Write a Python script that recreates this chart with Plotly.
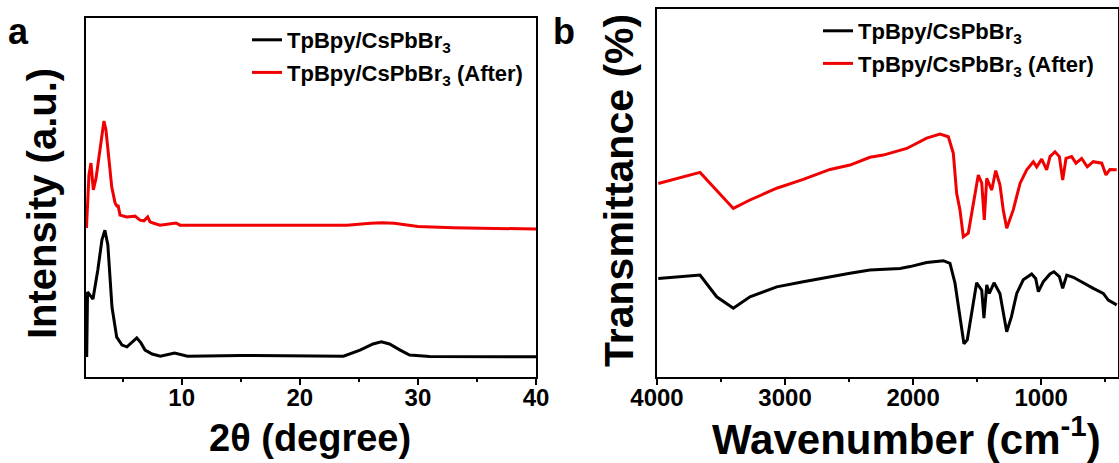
import plotly.graph_objects as go

# ---------------- Panel a: XRD ----------------
xrd_2theta_black = [1.96, 2.03, 2.49, 2.9, 3.25, 3.5, 3.75, 4.1, 4.5, 4.95, 5.37, 5.8, 6.2, 6.55, 6.9,
                    7.5, 8.2, 9.4, 10.5, 15, 20, 23.7, 25.1, 26.2, 26.9, 27.6, 28.5, 29.3, 31, 35, 40]
xrd_int_black = [5.6, 23.7, 21.7, 29.8, 38.2, 40.9, 36.8, 19.5, 11.1, 8.9, 8.4, 9.7, 10.9, 9.5, 7.5,
                 6.4, 5.8, 6.7, 5.8, 6.0, 5.8, 5.8, 7.5, 9.2, 9.8, 9.2, 7.5, 6.1, 5.7, 5.7, 5.65]

xrd_2theta_red = [1.94, 2.03, 2.15, 2.32, 2.52, 2.75, 3.09, 3.25, 3.42, 3.59, 3.7, 3.89, 4.08, 4.36,
                  4.52, 4.63, 4.78, 5.35, 5.71, 6.05, 6.47, 6.81, 7.12, 7.32, 7.57, 8.17, 9.52, 9.86,
                  15, 20, 24, 26, 27, 28, 30, 33, 36, 40]
xrd_int_red = [41.5, 49.3, 56.3, 59.6, 52.1, 55.4, 63.2, 68.2, 71.3, 68.8, 65.2, 58.2, 52.9, 48.5,
               47.6, 47.6, 45.1, 44.6, 44.8, 44.8, 43.7, 43.5, 44.6, 43.2, 42.9, 42.3, 42.9, 42.3,
               42.3, 42.2, 42.3, 42.8, 43.0, 42.8, 41.9, 41.6, 41.4, 41.2]

# ---------------- Panel b: FTIR ----------------
ir_wn_red = [3990, 3664, 3404, 3274, 3065, 2858, 2649, 2493, 2337, 2233, 2050, 1894, 1790, 1725, 1686,
             1660, 1634, 1608, 1569, 1530, 1491, 1464, 1444, 1425, 1405, 1386, 1355, 1322, 1296, 1269,
             1218, 1165, 1113, 1061, 1035, 996, 957, 931, 892, 858, 832, 806, 762, 728, 684, 640, 593,
             527, 494, 463, 410]
ir_t_red = [52.6, 55.6, 45.8, 48.1, 51.3, 53.7, 56.4, 57.6, 59.7, 60.3, 62.1, 64.9, 66.0, 65.3, 60.8,
            49.9, 45.4, 38.1, 39.1, 47.3, 54.9, 52.7, 42.7, 54.0, 52.2, 50.8, 56.1, 52.2, 45.4, 40.4,
            45.4, 52.6, 56.3, 58.5, 57.1, 59.2, 56.3, 59.9, 61.2, 59.9, 53.5, 59.4, 59.9, 58.1, 59.4,
            57.1, 58.5, 58.1, 54.9, 56.4, 56.3]

ir_wn_black = [3990, 3664, 3534, 3404, 3274, 3065, 2858, 2649, 2493, 2337, 2102, 2024, 1894, 1764, 1712,
               1673, 1634, 1603, 1577, 1543, 1504, 1464, 1447, 1425, 1405, 1368, 1322, 1290, 1269, 1232,
               1191, 1140, 1074, 1043, 1022, 983, 931, 900, 858, 832, 800, 749, 671, 593, 515, 476, 410]
ir_t_black = [26.8, 27.7, 21.8, 18.7, 21.8, 24.5, 25.9, 27.3, 28.2, 29.1, 29.5, 30.0, 31.1, 31.6, 30.9,
              25.5, 15.5, 9.0, 10.1, 17.3, 25.6, 23.6, 16.0, 25.0, 22.7, 25.6, 22.7, 16.4, 12.3, 16.4,
              22.7, 26.4, 28.0, 26.8, 23.2, 25.9, 28.0, 28.6, 27.3, 24.1, 27.7, 27.1, 25.5, 24.1, 22.7,
              20.9, 19.6]

name_black = "TpBpy/CsPbBr<sub>3</sub>"
name_red = "TpBpy/CsPbBr<sub>3</sub> (After)"

xrd_ticks = [10, 20, 30, 40]
ir_ticks = [4000, 3000, 2000, 1000]

BLACK = "#000000"
RED = "#f00000"
SANS = "Liberation Sans, Arial, sans-serif"

fig = go.Figure()
fig.add_trace(go.Scatter(x=xrd_2theta_black, y=xrd_int_black, mode="lines", name=name_black,
                         line=dict(color=BLACK, width=3), xaxis="x", yaxis="y",
                         legend="legend", legendgroup="a1"))
fig.add_trace(go.Scatter(x=xrd_2theta_red, y=xrd_int_red, mode="lines", name=name_red,
                         line=dict(color=RED, width=3), xaxis="x", yaxis="y",
                         legend="legend", legendgroup="a2"))
fig.add_trace(go.Scatter(x=ir_wn_black, y=ir_t_black, mode="lines", name=name_black,
                         line=dict(color=BLACK, width=3), xaxis="x2", yaxis="y2",
                         legend="legend2", legendgroup="b1"))
fig.add_trace(go.Scatter(x=ir_wn_red, y=ir_t_red, mode="lines", name=name_red,
                         line=dict(color=RED, width=3), xaxis="x2", yaxis="y2",
                         legend="legend2", legendgroup="b2"))

W, H = 1119, 463
common_x = dict(showline=True, mirror=True, linewidth=2, linecolor=BLACK, showgrid=False, zeroline=False,
                automargin=False,
                ticks="outside", ticklen=6, tickwidth=2, tickcolor=BLACK, ticklabelstandoff=-8,
                tickfont=dict(family=SANS, size=24, color=BLACK, weight="bold"),
                minor=dict(ticks="outside", ticklen=3, tickwidth=2, tickcolor=BLACK))
common_y = dict(showline=True, mirror=True, linewidth=2, linecolor=BLACK, showgrid=False, zeroline=False,
                automargin=False, ticks="", showticklabels=False, range=[0, 100])

leg = dict(bgcolor="rgba(0,0,0,0)", borderwidth=0, font=dict(family=SANS, size=22, color=BLACK, weight="bold"),
           tracegroupgap=1, itemwidth=30, xanchor="left", yanchor="top")


def label(text, xc, yc, size, angle=0):
    return dict(text=text, x=xc / W, y=1 - yc / H, xref="paper", yref="paper", showarrow=False,
                xanchor="center", yanchor="middle", textangle=angle,
                font=dict(family=SANS, size=size, color=BLACK, weight="bold"))


fig.update_layout(
    width=W, height=H, margin=dict(l=0, r=0, t=0, b=0, autoexpand=False),
    paper_bgcolor="white", plot_bgcolor="white", showlegend=True,
    xaxis=dict(common_x, domain=[86 / W, 536 / W], range=[1.9, 40], tickvals=xrd_ticks,
               minor_dtick=5, minor_tick0=0, anchor="y"),
    yaxis=dict(common_y, domain=[1 - 377 / H, 1 - 18 / H], anchor="x"),
    xaxis2=dict(common_x, domain=[657 / W, 1118 / W], range=[4000, 400], tickvals=ir_ticks,
                minor_dtick=500, minor_tick0=0, anchor="y2"),
    yaxis2=dict(common_y, domain=[1 - 377 / H, 1 - 9 / H], anchor="x2"),
    legend=dict(leg, x=247 / W, y=1 - 19 / H),
    legend2=dict(leg, x=818 / W, y=1 - 10 / H),
    annotations=[
        label("a", 18, 31, 36),
        label("b", 564, 32, 36),
        label("2θ (degree)", 310, 438, 38),
        label("Wavenumber (cm<sup>-1</sup>)", 906, 436, 42),
        label("Intensity (a.u.)", 42, 204, 40, -90),
        label("Transmittance (%)", 619, 191, 41, -90),
    ],
)

fig.write_html("out.html")
